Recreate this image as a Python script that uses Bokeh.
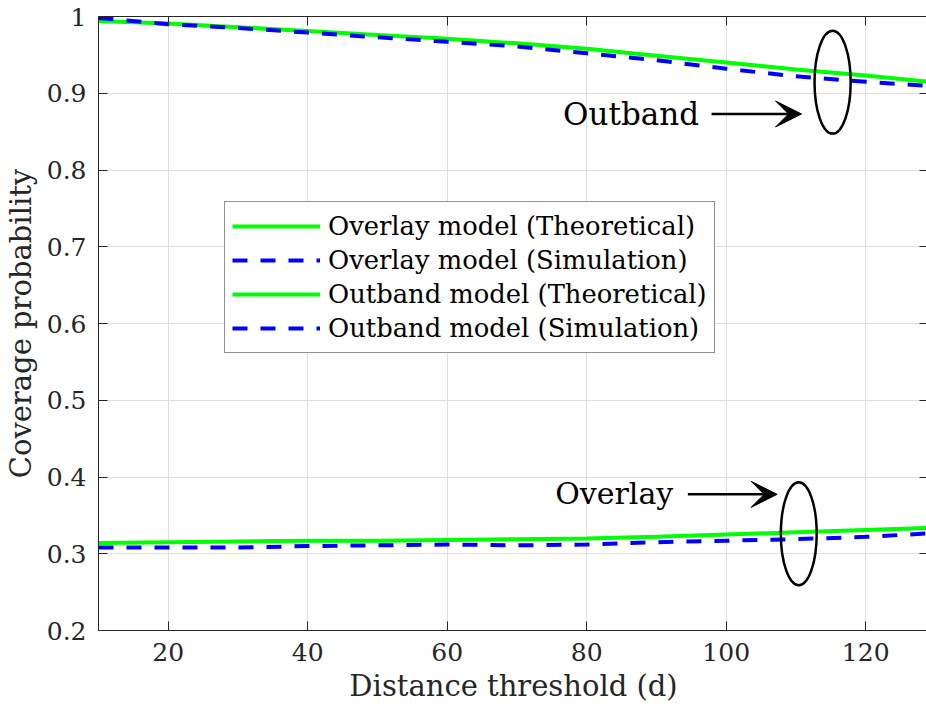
from bokeh.plotting import figure
from bokeh.models import (Range1d, FixedTicker, LinearAxis, Legend, LegendItem,
                          Arrow, VeeHead, Label)
from bokeh.embed import file_html
from bokeh.resources import INLINE

# ---------------- data ----------------
distance = [10, 20, 30, 40, 50, 60, 70, 80, 90, 100, 110, 120, 130]
outband_theory = [0.994, 0.991, 0.986, 0.981, 0.976, 0.971, 0.965, 0.958, 0.949, 0.940, 0.931, 0.923, 0.914]
outband_sim = [0.998, 0.990, 0.985, 0.979, 0.973, 0.967, 0.961, 0.952, 0.943, 0.932, 0.922, 0.915, 0.909]
overlay_theory = [0.314, 0.315, 0.316, 0.317, 0.317, 0.318, 0.319, 0.320, 0.322, 0.325, 0.328, 0.331, 0.334]
overlay_sim = [0.308, 0.308, 0.308, 0.310, 0.311, 0.312, 0.311, 0.312, 0.315, 0.317, 0.319, 0.322, 0.327]

x_ticks = [20, 40, 60, 80, 100, 120]
y_ticks = [0.2, 0.3, 0.4, 0.5, 0.6, 0.7, 0.8, 0.9, 1.0]

labels = ["Overlay model (Theoretical)", "Overlay model (Simulation)",
          "Outband model (Theoretical)", "Outband model (Simulation)"]

FONT = "DejaVu Serif"
DARK = "#262626"
GRID = "#dfdfdf"

p = figure(frame_width=830, frame_height=614,
           x_range=Range1d(10, 129), y_range=Range1d(0.2, 1.0),
           output_backend="svg", toolbar_location=None,
           min_border_left=95, min_border_top=16, min_border_bottom=85,
           min_border_right=1, background_fill_color="white",
           border_fill_color="white")
p.outline_line_color = None

# axes
for ax in (p.xaxis[0], p.yaxis[0]):
    ax.major_tick_in = 9
    ax.major_tick_out = 0
    ax.minor_tick_line_color = None
    ax.axis_line_color = DARK
    ax.major_tick_line_color = DARK
    ax.major_label_text_color = DARK
    ax.major_label_text_font = FONT
    ax.major_label_text_font_size = "25px"
    ax.axis_label_text_font = FONT
    ax.axis_label_text_font_size = "29px"
    ax.axis_label_text_font_style = "normal"
    ax.axis_label_text_color = DARK

p.xaxis[0].ticker = FixedTicker(ticks=x_ticks)
p.yaxis[0].ticker = FixedTicker(ticks=y_ticks)
p.yaxis[0].major_label_overrides = {1: "1"}
p.xaxis[0].axis_label = "Distance threshold (d)"
p.yaxis[0].axis_label = "Coverage probability"
p.xaxis[0].major_label_standoff = 12
p.yaxis[0].major_label_standoff = 12
p.xaxis[0].axis_label_standoff = 5
p.yaxis[0].axis_label_standoff = 6

# box axes (top / right) with inward ticks and no labels
for loc, tk in (("above", x_ticks), ("right", y_ticks)):
    ax = LinearAxis(ticker=FixedTicker(ticks=tk))
    ax.major_tick_in = 9
    ax.major_tick_out = 0
    ax.minor_tick_line_color = None
    ax.axis_line_color = DARK
    ax.major_tick_line_color = DARK
    ax.major_label_text_color = None
    ax.major_label_standoff = 0
    p.add_layout(ax, loc)

p.xgrid.ticker = FixedTicker(ticks=x_ticks)
p.ygrid.ticker = FixedTicker(ticks=y_ticks)
p.xgrid.grid_line_color = GRID
p.ygrid.grid_line_color = GRID

# lines
r1 = p.line(distance, overlay_theory, line_color="#00ff00", line_width=4)
r2 = p.line(distance, overlay_sim, line_color="#0000ff", line_width=4, line_dash="15 13")
r3 = p.line(distance, outband_theory, line_color="#00ff00", line_width=4)
r4 = p.line(distance, outband_sim, line_color="#0000ff", line_width=4, line_dash="15 13")

legend = Legend(items=[LegendItem(label=l, renderers=[r]) for l, r in zip(labels, [r1, r2, r3, r4])],
                location=(126, 277))
legend.label_text_font = FONT
legend.label_text_font_size = "25.8px"
legend.label_text_color = "black"
legend.border_line_color = DARK
legend.border_line_width = 1
legend.padding = 7
legend.spacing = 0
legend.margin = 0
legend.glyph_width = 88
legend.glyph_height = 34
legend.label_height = 34
legend.label_standoff = 8
p.add_layout(legend)

# annotations
p.ellipse(x=[115.25], y=[0.9144], width=5.18, height=0.134,
          fill_color=None, line_color="black", line_width=2.5)
p.ellipse(x=[110.4], y=[0.326], width=5.14, height=0.134,
          fill_color=None, line_color="black", line_width=2.5)

p.add_layout(Arrow(end=VeeHead(size=26, fill_color="black", line_color="black"),
                   x_start=97.9, y_start=0.873, x_end=110.8, y_end=0.873,
                   line_width=2.5, line_color="black"))
p.add_layout(Arrow(end=VeeHead(size=26, fill_color="black", line_color="black"),
                   x_start=94.5, y_start=0.3774, x_end=107.3, y_end=0.3774,
                   line_width=2.5, line_color="black"))

p.add_layout(Label(x=96.1, y=0.873, text="Outband", text_align="right",
                   text_baseline="middle", text_font=FONT, text_font_size="31px",
                   text_color="black"))
p.add_layout(Label(x=92.4, y=0.3785, text="Overlay", text_align="right",
                   text_baseline="middle", text_font=FONT, text_font_size="30px",
                   text_color="black"))

open("out.html", "w").write(file_html(p, INLINE))
